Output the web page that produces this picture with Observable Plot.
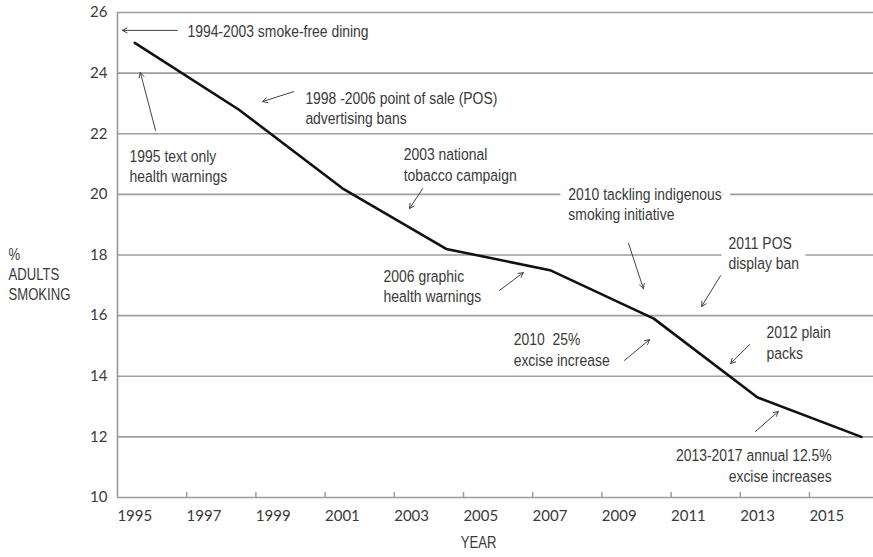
<!DOCTYPE html>
<html>
<head>
<meta charset="utf-8">
<script src="https://cdn.jsdelivr.net/npm/d3@7"></script>
<script src="https://cdn.jsdelivr.net/npm/@observablehq/plot@0.6"></script>
<style>
  html, body { margin: 0; padding: 0; background: #fff; overflow: hidden; }
  #chart svg text { white-space: pre; }
</style>
</head>
<body>
<div id="chart"></div>
<script>
// ---- data ----
const years = [1995, 1998, 2001, 2004, 2007, 2010, 2013, 2016];
const pctAdults = [25.0, 22.8, 20.2, 18.2, 17.5, 15.9, 13.3, 12.0];

const yTicks = [10, 12, 14, 16, 18, 20, 22, 24, 26];
const yearLabels = [1995, 1997, 1999, 2001, 2003, 2005, 2007, 2009, 2011, 2013, 2015];
const yearBoundaries = [1996.5, 1998.5, 2000.5, 2002.5, 2004.5, 2006.5, 2008.5, 2010.5, 2012.5, 2014.5];
const xDomain = [1994.5, 2016.35];

const noteText = [
  "1994-2003 smoke-free dining",
  "1995 text only\nhealth warnings",
  "1998 -2006 point of sale (POS)\nadvertising bans",
  "2003 national\ntobacco campaign",
  "2006 graphic\nhealth warnings",
  "2010 tackling indigenous\nsmoking initiative",
  "2011 POS\ndisplay ban",
  "2010  25%\nexcise increase",
  "2012 plain\npacks",
  "2013-2017 annual 12.5%\nexcise increases"
];
const noteYear = [1996.52, 1994.85, 1999.93, 2002.77, 2002.19, 2007.53, 2012.16, 2005.95, 2013.26, 2015.14];
const notePct  = [25.41, 20.95, 22.87, 21.0, 16.99, 19.70, 18.08, 14.90, 15.13, 11.07];
const noteAnchor = ["start", "start", "start", "start", "start", "start", "start", "start", "start", "end"];
const noteOnGrid = [false, false, false, false, false, true, true, false, false, false];

const arrowYear1 = [1996.23, 1995.60, 1999.59, 2003.32, 2005.54, 2009.27, 2011.93, 2009.15, 2012.77, 2012.94];
const arrowPct1  = [25.41, 22.11, 23.39, 20.19, 16.83, 18.38, 17.32, 14.52, 15.05, 12.18];
const arrowYear2 = [1994.64, 1995.16, 1998.69, 2002.94, 2006.23, 2009.70, 2011.38, 2009.88, 2012.22, 2013.60];
const arrowPct2  = [25.41, 24.02, 23.06, 19.53, 17.42, 16.89, 16.30, 15.21, 14.42, 12.84];

const yLabel = "%\nADULTS\nSMOKING";
const xLabel = "YEAR";

// ---- tables ----
const series = years.map((y, i) => ({year: y, pct: pctAdults[i]}));
const notes = noteText.map((t, i) => ({text: t, year: noteYear[i], pct: notePct[i], anchor: noteAnchor[i], grid: noteOnGrid[i]}));
const arrows = arrowYear1.map((x, i) => ({x1: x, y1: arrowPct1[i], x2: arrowYear2[i], y2: arrowPct2[i]}));

const GRID = "#9d9d9d";
const TXT = "#3a3a3a";
const NARROW = "'Liberation Sans', Arial, sans-serif";
const TICKFONT = "Lato, 'Liberation Sans', sans-serif";

const noteOpts = {x: "year", y: "pct", text: "text", lineAnchor: "middle", lineHeight: 1.2, fontSize: 17, fontFamily: NARROW, className: "narrow"};

const chart = Plot.plot({
  width: 873,
  height: 557,
  marginLeft: 117,
  marginRight: 0,
  marginTop: 12,
  marginBottom: 60,
  x: {type: "linear", domain: xDomain},
  y: {domain: [yTicks[0], yTicks[yTicks.length - 1]]},
  style: {background: "#fff", color: TXT},
  marks: [
    Plot.ruleY(yTicks, {stroke: GRID, strokeWidth: 1.7}),
    Plot.ruleX([xDomain[0]], {stroke: GRID, strokeWidth: 1.7}),
    Plot.axisX(yearBoundaries, {tickSize: -5, fill: null, stroke: GRID, strokeWidth: 1.5, label: null}),
    Plot.axisX(yearLabels, {tickSize: 0, tickPadding: 13, tickFormat: d => String(d), fill: TXT, fontSize: 15, fontFamily: TICKFONT, label: null}),
    Plot.axisY(yTicks, {tickSize: 0, tickPadding: 10, fill: TXT, fontSize: 15, fontFamily: TICKFONT, label: null}),
    Plot.text([yLabel], {frameAnchor: "left", dx: -109, dy: 18.5, textAnchor: "start", lineHeight: 1.25, fontSize: 16, fontFamily: NARROW, fill: TXT, className: "narrow"}),
    Plot.text([xLabel], {frameAnchor: "bottom", dx: -17, dy: 50, fontSize: 16, fontFamily: NARROW, fill: TXT, className: "narrow"}),
    // white halo behind notes that sit on a gridline
    Plot.text(notes.filter(d => d.grid), {...noteOpts, textAnchor: "start", fill: "none", stroke: "#fff", strokeWidth: 22, strokeLinejoin: "round"}),
    Plot.text(notes.filter(d => d.anchor === "start"), {...noteOpts, textAnchor: "start", fill: TXT}),
    Plot.text(notes.filter(d => d.anchor === "end"), {...noteOpts, textAnchor: "end", fill: TXT}),
    Plot.arrow(arrows, {x1: "x1", y1: "y1", x2: "x2", y2: "y2", stroke: "#444", strokeWidth: 1, headLength: 8, headAngle: 55}),
    Plot.line(series, {x: "year", y: "pct", stroke: "#111", strokeWidth: 2.6, strokeLinejoin: "round"})
  ]
});
// condensed look (Arial Narrow style): squeeze narrow texts horizontally about their anchor
d3.select(chart).selectAll(".narrow text").attr("transform", function () {
  const t = this.getAttribute("transform") || "";
  return t + " scale(0.82,1)";
});
document.getElementById("chart").appendChild(chart);
</script>
</body>
</html>
